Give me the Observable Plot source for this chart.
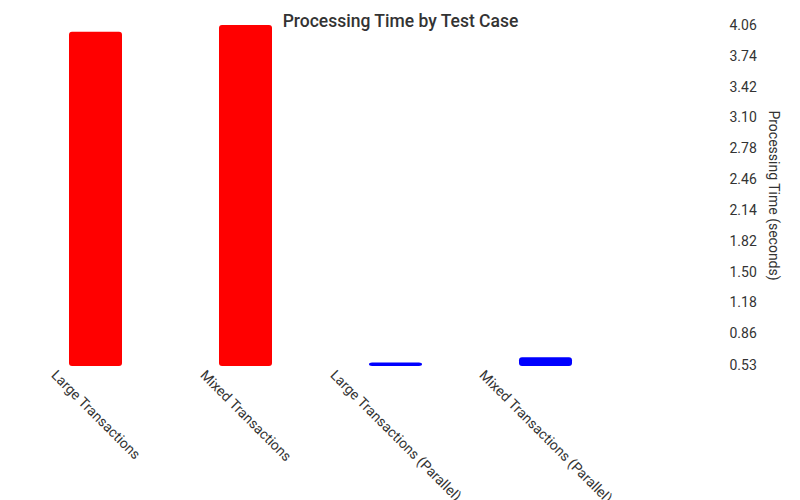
<!DOCTYPE html>
<html>
<head>
<meta charset="utf-8">
<script src="https://cdn.jsdelivr.net/npm/d3@7"></script>
<script src="https://cdn.jsdelivr.net/npm/@observablehq/plot@0.6"></script>
<style>
  body { margin: 0; background: #fff; }
</style>
</head>
<body>
<div id="chart"></div>
<script>
const cases = ["Large Transactions", "Mixed Transactions", "Large Transactions (Parallel)", "Mixed Transactions (Parallel)"];
const times = [3.99, 4.06, 0.555, 0.61];
const kinds = ["serial", "serial", "parallel", "parallel"];
const yTicks = [0.53, 0.86, 1.18, 1.50, 1.82, 2.14, 2.46, 2.78, 3.10, 3.42, 3.74, 4.06];
const baseline = 0.52;
const title = "Processing Time by Test Case";
const yLabel = "Processing Time (seconds)";

const data = cases.map((c, i) => ({case: c, time: times[i], kind: kinds[i]}));

const chart = Plot.plot({
  width: 800,
  height: 500,
  marginTop: 25,
  marginBottom: 135,
  marginLeft: 80,
  marginRight: 80,
  style: {fontFamily: "Roboto, sans-serif", fontSize: "14px", color: "#333", background: "#fff"},
  x: {domain: cases, range: [20, 620], paddingInner: 0.65, paddingOuter: 0.325, label: null},
  y: {domain: [0.53, 4.06], label: null},
  color: {domain: ["serial", "parallel"], range: ["#ff0000", "#0000ff"]},
  marks: [
    Plot.barY(data, {x: "case", y1: baseline, y2: "time", fill: "kind", rx: 3}),
    Plot.axisY({anchor: "right", ticks: yTicks, tickFormat: d => d.toFixed(2), tickSize: 0, tickPadding: 9, label: null, fontSize: 14}),
    Plot.axisX({anchor: "bottom", tickSize: 0, tickRotate: 45, label: null, fontSize: 14}),
    Plot.text([yLabel], {frameAnchor: "right", textAnchor: "middle", rotate: 90, dx: 53, fontSize: 14, fill: "#333"}),
    Plot.text([title], {frameAnchor: "top", textAnchor: "middle", dy: -11, fontSize: 17.5, fontWeight: 500, fill: "#333"})
  ]
});

document.getElementById("chart").appendChild(chart);

// position rotated x tick labels so each label's box is centred under its bar
const xs = chart.scale("x");
const bw = xs.bandwidth;
const labelGroup = chart.querySelector('g[aria-label="x-axis tick label"]');
if (labelGroup) {
  labelGroup.removeAttribute("transform");
  labelGroup.querySelectorAll("text").forEach((t, i) => {
    const name = cases[i];
    const cx = xs.apply(name) + bw / 2;
    const L = t.getComputedTextLength();
    t.removeAttribute("x");
    t.removeAttribute("y");
    t.setAttribute("dy", "0");
    t.setAttribute("text-anchor", "start");
    t.setAttribute("transform", `translate(${cx - L * 0.3536 - 3},376) rotate(45)`);
  });
}
</script>
</body>
</html>
